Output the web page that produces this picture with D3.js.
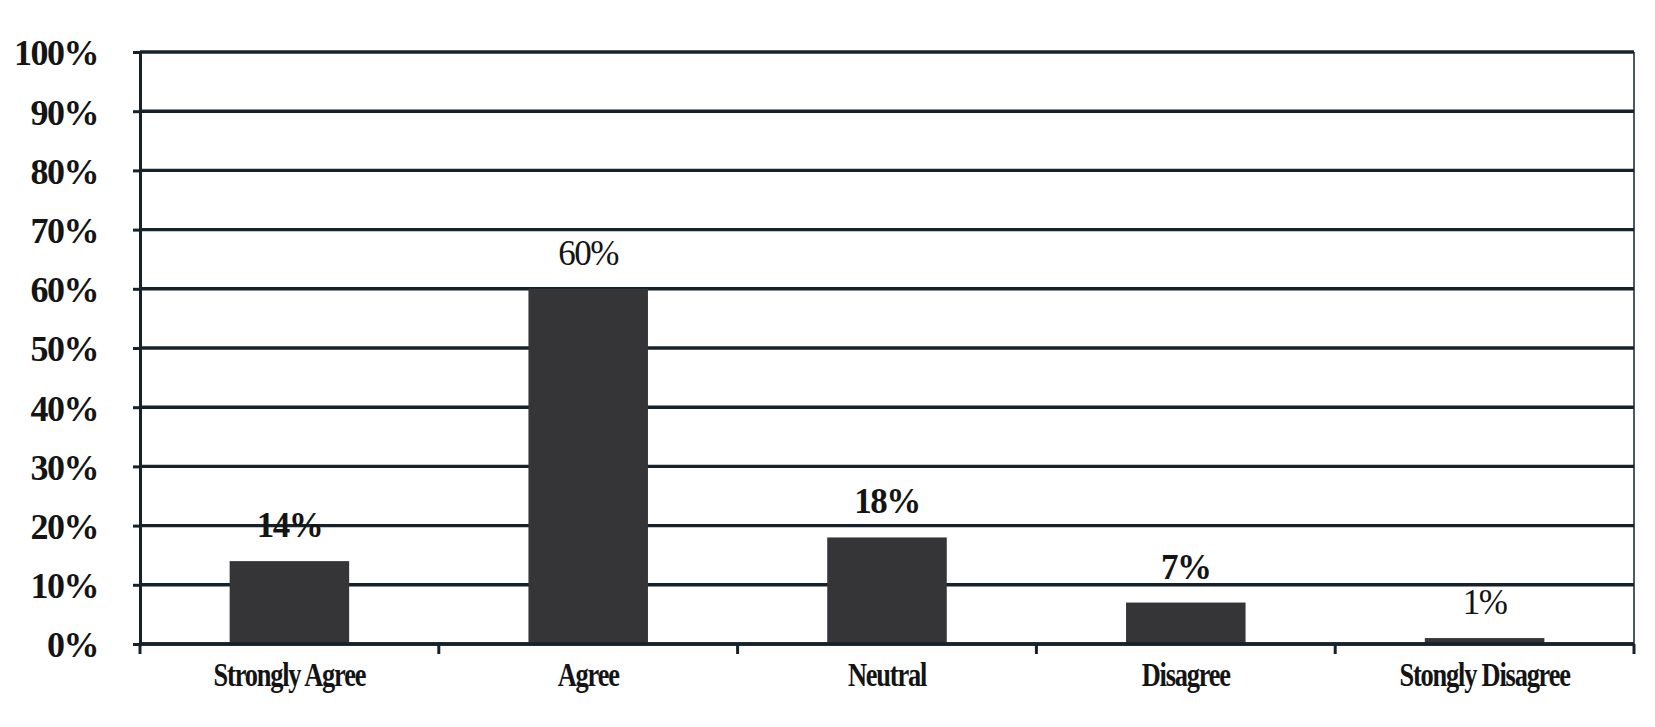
<!DOCTYPE html>
<html>
<head>
<meta charset="utf-8">
<script src="https://cdn.jsdelivr.net/npm/d3@7"></script>
<style>
  html, body { margin: 0; padding: 0; background: #ffffff; }
  svg { display: block; }
  text { font-family: "Liberation Serif", "Times New Roman", serif; fill: #141414; }
</style>
</head>
<body>
<svg id="chart" width="1655" height="727"></svg>
<script>
// Survey responses, share of respondents per answer
const categories = ["Strongly Agree", "Agree", "Neutral", "Disagree", "Stongly Disagree"];
const shares = [14, 60, 18, 7, 1];
const valueLabels = ["14%", "60%", "18%", "7%", "1%"];
const yTicks = [0, 10, 20, 30, 40, 50, 60, 70, 80, 90, 100];

const svg = d3.select("#chart");
const margin = { left: 140, right: 21, top: 52, bottom: 83 };
const W = +svg.attr("width"), H = +svg.attr("height");
const x0 = margin.left, x1 = W - margin.right;
const yTop = margin.top, yBottom = H - margin.bottom;

const x = d3.scaleBand().domain(categories).range([x0, x1]).paddingInner(0.6).paddingOuter(0.3);
const y = d3.scaleLinear().domain([0, 100]).range([yBottom, yTop]);

const ink = "#16222b";

// horizontal gridlines
svg.append("g")
  .selectAll("line")
  .data(yTicks)
  .join("line")
  .attr("x1", x0).attr("x2", x1)
  .attr("y1", d => y(d)).attr("y2", d => y(d))
  .attr("stroke", ink)
  .attr("stroke-width", 3.4);

// right frame edge
svg.append("line")
  .attr("x1", x1).attr("x2", x1)
  .attr("y1", y(100)).attr("y2", y(0))
  .attr("stroke", ink).attr("stroke-width", 1.5);

// bars
svg.append("g")
  .selectAll("rect")
  .data(shares)
  .join("rect")
  .attr("x", (d, i) => x(categories[i]))
  .attr("width", x.bandwidth())
  .attr("y", d => y(d))
  .attr("height", d => y(0) - y(d))
  .attr("fill", "#353537");

// y axis
const yAxis = svg.append("g")
  .attr("transform", `translate(${x0},0)`)
  .call(d3.axisLeft(y).tickValues(yTicks).tickFormat(d => d + "%").tickSize(7).tickPadding(35));
yAxis.select(".domain").attr("stroke", ink).attr("stroke-width", 3);
yAxis.selectAll(".tick line").attr("stroke", ink).attr("stroke-width", 3);
yAxis.selectAll(".tick text")
  .attr("font-family", "'Liberation Serif', serif")
  .attr("font-weight", "bold")
  .attr("font-size", 36)
  .attr("letter-spacing", -1.5)
  .attr("fill", "#141414")
  .attr("dy", "0.36em");

// x axis with ticks at category boundaries
const xAxisG = svg.append("g");
xAxisG.append("line")
  .attr("x1", x0).attr("x2", x1)
  .attr("y1", y(0)).attr("y2", y(0))
  .attr("stroke", ink).attr("stroke-width", 3.5);
const edges = d3.range(categories.length + 1).map(i =>
  i === 0 ? x0 : (i === categories.length ? x1 : (x(categories[i - 1]) + x.bandwidth() + x(categories[i])) / 2));
xAxisG.selectAll("line.tk")
  .data(edges)
  .join("line")
  .attr("class", "tk")
  .attr("x1", d => d).attr("x2", d => d)
  .attr("y1", y(0)).attr("y2", y(0) + 10)
  .attr("stroke", ink).attr("stroke-width", 3);

// category names, set in a narrow face
xAxisG.selectAll("g.cat")
  .data(categories)
  .join("g")
  .attr("class", "cat")
  .attr("transform", d => `translate(${x(d) + x.bandwidth() / 2},${y(0) + 42}) scale(0.8,1)`)
  .append("text")
  .attr("text-anchor", "middle")
  .attr("font-size", 33)
  .attr("font-weight", "bold")
  .attr("letter-spacing", -1.5)
  .text(d => d);

// value labels above bars
const heavy = [true, false, true, true, false];
svg.append("g")
  .selectAll("text")
  .data(shares)
  .join("text")
  .attr("x", (d, i) => x(categories[i]) + x.bandwidth() / 2)
  .attr("y", d => y(d) - 24)
  .attr("text-anchor", "middle")
  .attr("font-size", 35)
  .attr("font-weight", (d, i) => heavy[i] ? "bold" : "normal")
  .attr("letter-spacing", -1.5)
  .text((d, i) => valueLabels[i]);
</script>
</body>
</html>
